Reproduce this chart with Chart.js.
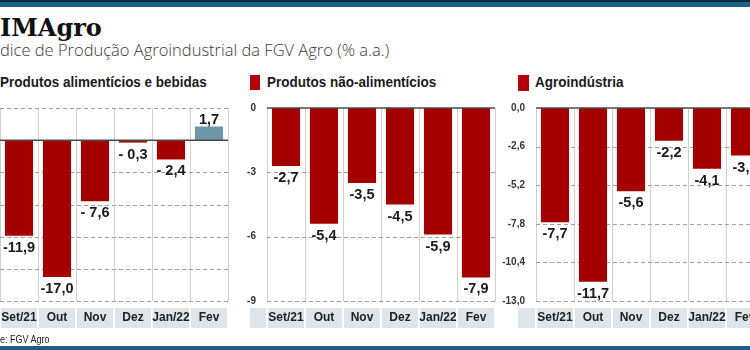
<!DOCTYPE html>
<html>
<head>
<meta charset="utf-8">
<script src="https://cdn.jsdelivr.net/npm/chart.js@4"></script>
<style>
html,body{margin:0;padding:0;width:750px;height:350px;overflow:hidden;background:#fff;}
body{position:relative;}
.bar-top{position:absolute;left:0;top:0;width:750px;height:7px;background:#17628b;border-top:2px solid #0b2c44;box-sizing:border-box;}
.bar-bot{position:absolute;left:0;top:346px;width:750px;height:4px;background:#1b5f86;}
.title{position:absolute;left:0;top:14px;font-family:'DejaVu Serif',serif;font-weight:bold;font-size:24px;line-height:28px;color:#111;white-space:nowrap;}
.subtitle{position:absolute;left:0;top:38px;font-family:'Open Sans',sans-serif;font-weight:300;font-size:16.5px;line-height:23px;color:#3a3a3a;white-space:nowrap;}
.leg{position:absolute;top:73px;font-family:'Liberation Sans',Arial,sans-serif;font-weight:bold;font-size:15.5px;line-height:18px;color:#1a1a1a;white-space:nowrap;transform:scaleX(0.87);transform-origin:0 0;}
.sw{position:absolute;top:75px;width:10px;height:15px;background:#b3000b;}
.source{position:absolute;left:0;top:334px;font-family:'Liberation Sans',Arial,sans-serif;font-size:10px;line-height:12px;color:#222;white-space:nowrap;transform:scaleX(0.9);transform-origin:0 0;}
canvas{position:absolute;top:0;}
</style>
</head>
<body>
<div class="bar-top"></div>
<div class="title">IMAgro</div>
<div class="subtitle">dice de Produção Agroindustrial da FGV Agro (% a.a.)</div>
<div class="leg" style="left:0px">Produtos alimentícios e bebidas</div>
<div class="sw" style="left:250px"></div>
<div class="leg" style="left:267px">Produtos não-alimentícios</div>
<div class="sw" style="left:518px;width:11px;height:16px"></div>
<div class="leg" style="left:535px">Agroindústria</div>
<canvas id="c1" width="240" height="350" style="left:0px"></canvas>
<canvas id="c2" width="270" height="350" style="left:240px"></canvas>
<canvas id="c3" width="280" height="350" style="left:500px"></canvas>
<div class="source">e: FGV Agro</div>
<div class="bar-bot"></div>
<script>
// ---- data ----
const categories = ["Set/21", "Out", "Nov", "Dez", "Jan/22", "Fev"];

const alimenticiosValues = [-11.9, -17.0, -7.6, -0.3, -2.4, 1.7];
const alimenticiosLabels = ["-11,9", "-17,0", "- 7,6", "- 0,3", "- 2,4", "1,7"];

const naoAlimenticiosValues = [-2.7, -5.4, -3.5, -4.5, -5.9, -7.9];
const naoAlimenticiosLabels = ["-2,7", "-5,4", "-3,5", "-4,5", "-5,9", "-7,9"];

const agroindustriaValues = [-7.7, -11.7, -5.6, -2.2, -4.1, -3.2];
const agroindustriaLabels = ["-7,7", "-11,7", "-5,6", "-2,2", "-4,1", "-3,2"];

const ticks1 = [-20, -16, -12, -8, -4, 0, 4];
const tickLabels1 = ["-20", "-16", "-12", "-8", "-4", "0", "4"];
const ticks2 = [-9, -6, -3, 0];
const tickLabels2 = ["-9", "-6", "-3", "0"];
const ticks3 = [-13, -10.4, -7.8, -5.2, -2.6, 0];
const tickLabels3 = ["-13,0", "-10,4", "-7,8", "-5,2", "-2,6", "0,0"];

// ---- styling ----
const RED = '#a50000';
const BLUE = '#6f97aa';
const SANS = "'Liberation Sans',Arial,sans-serif";

const panelPlugin = {
  id: 'panelPlugin',
  beforeDraw(chart, args, opts) {
    const ctx = chart.ctx, a = chart.chartArea;
    const n = chart.data.labels.length;
    const cw = (a.right - a.left) / n;
    const top = a.bottom + 7, h = 20;
    ctx.save();
    ctx.fillStyle = '#dde4ea';
    if (opts.emptyStart != null) {
      ctx.fillRect(opts.emptyStart, top, a.left - opts.emptyStart - 1, h);
    }
    for (let i = 0; i < n; i++) {
      ctx.fillRect(a.left + i * cw + 1, top, cw - 2, h);
    }
    ctx.restore();
  },
  beforeDatasetsDraw(chart) {
    const ctx = chart.ctx, a = chart.chartArea, y = chart.scales.y;
    ctx.save();
    ctx.strokeStyle = '#a0a0a0';
    ctx.lineWidth = 1;
    ctx.setLineDash([4, 3]);
    y.ticks.forEach(t => {
      if (t.value === 0) return;
      const py = Math.round(y.getPixelForValue(t.value)) + 0.5;
      ctx.beginPath();
      ctx.moveTo(a.left, py);
      ctx.lineTo(a.right, py);
      ctx.stroke();
    });
    ctx.restore();
  },
  afterDatasetsDraw(chart, args, opts) {
    const ctx = chart.ctx, a = chart.chartArea, y = chart.scales.y;
    ctx.save();
    const pz = y.getPixelForValue(0);
    ctx.strokeStyle = '#4a4a4a';
    ctx.lineWidth = 1.5;
    ctx.beginPath();
    ctx.moveTo(a.left, pz);
    ctx.lineTo(a.right, pz);
    ctx.stroke();
    const meta = chart.getDatasetMeta(0);
    const vals = chart.data.datasets[0].data;
    ctx.fillStyle = '#1a1a1a';
    ctx.font = 'bold 14.5px ' + SANS;
    ctx.textAlign = 'center';
    ctx.textBaseline = 'alphabetic';
    meta.data.forEach((el, i) => {
      const v = vals[i];
      const txt = opts.labels[i];
      if (v < 0) {
        ctx.fillText(txt, el.x, el.y + 16);
      } else {
        ctx.fillText(txt, el.x, el.y - 2.5);
      }
    });
    ctx.restore();
  }
};

function makeChart(id, values, labels, tickVals, tickLabels, yWidth, showY, padRight, emptyStart) {
  const colors = values.map(v => v >= 0 ? BLUE : RED);
  return new Chart(document.getElementById(id), {
    type: 'bar',
    data: {
      labels: categories,
      datasets: [{
        data: values,
        backgroundColor: colors,
        borderWidth: 0,
        barPercentage: 0.74,
        categoryPercentage: 1.0
      }]
    },
    options: {
      responsive: false,
      devicePixelRatio: 1,
      animation: false,
      layout: { padding: { top: 108, bottom: 22, left: 0, right: padRight } },
      plugins: {
        legend: { display: false },
        tooltip: { enabled: false },
        panelPlugin: { labels: labels, emptyStart: emptyStart }
      },
      scales: {
        x: {
          grid: { display: true, color: '#d0d0d0', lineWidth: 1, drawTicks: false, offset: true },
          border: { display: false },
          ticks: {
            autoSkip: false, maxRotation: 0, minRotation: 0, padding: 9,
            color: '#222', font: { family: SANS, size: 12, weight: 'bold' }
          },
          afterFit: s => { s.height = 27; s.paddingLeft = 0; s.paddingRight = 0; }
        },
        y: {
          min: tickVals[0],
          max: tickVals[tickVals.length - 1],
          grid: { display: false },
          border: { display: false },
          afterBuildTicks: s => { s.ticks = tickVals.map(v => ({ value: v })); },
          ticks: {
            display: showY,
            padding: 3,
            color: '#333',
            font: { family: SANS, size: 10, weight: 'bold' },
            callback: (v, i) => tickLabels[i]
          },
          afterFit: s => { s.width = yWidth; s.paddingTop = 0; s.paddingBottom = 0; }
        }
      }
    },
    plugins: [panelPlugin]
  });
}

makeChart('c1', alimenticiosValues, alimenticiosLabels, ticks1, tickLabels1, 0, false, 12, null);
makeChart('c2', naoAlimenticiosValues, naoAlimenticiosLabels, ticks2, tickLabels2, 27, true, 15, 10);
makeChart('c3', agroindustriaValues, agroindustriaLabels, ticks3, tickLabels3, 36, true, 16, 18);
</script>
</body>
</html>
